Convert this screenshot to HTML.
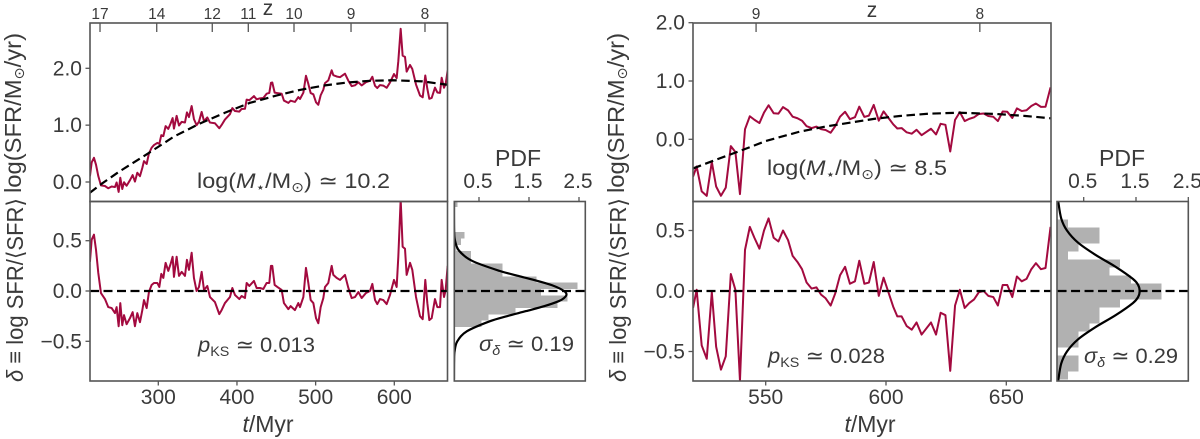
<!DOCTYPE html>
<html lang="en">
<head>
<meta charset="utf-8">
<title>Star formation history panels</title>
<style>
  html, body { margin: 0; padding: 0; background: #fff; }
  body { width: 1200px; height: 439px; overflow: hidden; }
  svg { display: block; filter: blur(0.3px); }
  text { font-family: "Liberation Sans", "DejaVu Sans", sans-serif; fill: #3a3a3a; }
  .tick { font-size: 21px; }
  .ztick { font-size: 15.5px; }
  .ann { font-size: 21.5px; }
  .lab { font-size: 23px; }
  .sub { font-size: 14px; }
</style>
</head>
<body>
<svg id="chart" xmlns="http://www.w3.org/2000/svg" width="1200" height="439" viewBox="0 0 1200 439">
  <defs>
    <clipPath id="clip-lt"><rect x="90" y="23" width="357.5" height="178.5"/></clipPath>
    <clipPath id="clip-lb"><rect x="90" y="201.5" width="357.5" height="179.5"/></clipPath>
    <clipPath id="clip-lp"><rect x="454.3" y="201.5" width="131" height="179.5"/></clipPath>
    <clipPath id="clip-rt"><rect x="693" y="23" width="358" height="178.5"/></clipPath>
    <clipPath id="clip-rb"><rect x="693" y="201.5" width="358" height="179.5"/></clipPath>
    <clipPath id="clip-rp"><rect x="1057" y="201.5" width="131.3" height="179.5"/></clipPath>
  </defs>
  <g id="marks"></g>
  <g id="frames"></g>
  <g id="ticks"></g>

  <text class="lab" transform="translate(21,113) rotate(-90)" text-anchor="middle" textLength="160" lengthAdjust="spacingAndGlyphs">log(SFR/M<tspan class="sub" dy="3">⊙</tspan><tspan dy="-3">/yr)</tspan></text>
  <text class="lab" transform="translate(23,290) rotate(-90)" text-anchor="middle" textLength="184" lengthAdjust="spacingAndGlyphs"><tspan font-style="italic">δ</tspan> ≡ log SFR/⟨SFR⟩</text>
  <text class="lab" x="268" y="432" text-anchor="middle"><tspan font-style="italic">t</tspan>/Myr</text>
  <text class="tick" x="268" y="15" text-anchor="middle">z</text>
  <text class="ann" x="197" y="188" textLength="193" lengthAdjust="spacingAndGlyphs">log(<tspan font-style="italic">M</tspan><tspan class="sub" dy="4">⋆</tspan><tspan dy="-4">/M</tspan><tspan class="sub" dy="4">⊙</tspan><tspan dy="-4">) ≃ 10.2</tspan></text>
  <text class="ann" x="198" y="352" textLength="117" lengthAdjust="spacingAndGlyphs"><tspan font-style="italic">p</tspan><tspan class="sub" dy="4">KS</tspan><tspan dy="-4"> ≃ 0.013</tspan></text>
  <text class="ann" x="479" y="351" textLength="95" lengthAdjust="spacingAndGlyphs"><tspan font-style="italic">σ</tspan><tspan class="sub" font-style="italic" dy="4">δ</tspan><tspan dy="-4"> ≃ 0.19</tspan></text>
  <text x="518" y="166" text-anchor="middle" font-size="23">PDF</text>

  <text class="lab" transform="translate(624,113) rotate(-90)" text-anchor="middle" textLength="160" lengthAdjust="spacingAndGlyphs">log(SFR/M<tspan class="sub" dy="3">⊙</tspan><tspan dy="-3">/yr)</tspan></text>
  <text class="lab" transform="translate(626,290) rotate(-90)" text-anchor="middle" textLength="184" lengthAdjust="spacingAndGlyphs"><tspan font-style="italic">δ</tspan> ≡ log SFR/⟨SFR⟩</text>
  <text class="lab" x="870" y="432" text-anchor="middle"><tspan font-style="italic">t</tspan>/Myr</text>
  <text class="tick" x="872" y="17" text-anchor="middle">z</text>
  <text class="ann" x="767" y="175" textLength="180" lengthAdjust="spacingAndGlyphs">log(<tspan font-style="italic">M</tspan><tspan class="sub" dy="4">⋆</tspan><tspan dy="-4">/M</tspan><tspan class="sub" dy="4">⊙</tspan><tspan dy="-4">) ≃ 8.5</tspan></text>
  <text class="ann" x="768" y="363" textLength="117" lengthAdjust="spacingAndGlyphs"><tspan font-style="italic">p</tspan><tspan class="sub" dy="4">KS</tspan><tspan dy="-4"> ≃ 0.028</tspan></text>
  <text class="ann" x="1084" y="363" textLength="94" lengthAdjust="spacingAndGlyphs"><tspan font-style="italic">σ</tspan><tspan class="sub" font-style="italic" dy="4">δ</tspan><tspan dy="-4"> ≃ 0.29</tspan></text>
  <text x="1122" y="166" text-anchor="middle" font-size="23">PDF</text>
</svg>

<script>
// ---------- Left galaxy data ----------
const leftTimes = [213.1,215.3,218.2,220.8,223.7,227.1,232.2,236.4,240.7,244.9,247,249.6,251.7,254.2,256.4,259.7,264,267.4,270.3,273.3,276.7,279.7,281.8,285.2,288.1,291.5,294.5,298.7,301.3,303.8,306.4,309.3,312.7,315.7,318.2,319.9,323.3,326.3,329.7,333.9,336.4,339,342.4,345.3,348.7,351.7,355.1,358.1,362.3,365.7,372,377.5,380.5,384.7,391.1,394.1,397.5,403,405.9,410.2,412.3,415.7,421.6,425,429.2,433.5,437.7,441.1,443.2,444.9,447.9,451.3,456.8,459.7,465.3,468.2,473.7,478,480.1,484.4,487.7,490.7,493.7,497.1,500.5,503.4,506.4,509.8,511.9,516.1,520.4,522.5,526.7,531,537.3,541.6,545.8,550,554.3,558.5,564,569.1,572.1,575.5,578.4,581.8,586,590.3,594.5,599.6,603,605.1,608.1,610.6,613.6,615.7,620,622.9,627.6,632.7,636.1,639.4,642,644.5,647.5,651.7,654.7,658.1,660.2,663.2,665.3,667.8];
const leftDelta = [0.29,0.51,0.56,0.41,0.18,-0.02,-0.08,-0.16,-0.17,-0.22,-0.16,-0.35,-0.12,-0.34,-0.24,-0.33,-0.27,-0.21,-0.35,-0.22,-0.31,-0.19,-0.09,-0.17,-0.01,0.06,0.08,0.08,0.04,0.17,0.13,0.28,0.2,0.27,0.34,0.14,0.34,0.15,0.19,0.15,0.31,0.21,0.38,0.13,0,0.04,0.19,0.01,0.05,-0.06,-0.11,-0.23,-0.19,-0.12,-0.06,0.03,-0.04,-0.08,-0.05,-0.07,0.08,0.05,0.1,0.03,0.03,0.02,0.08,0.08,0.25,0.25,0.06,0.04,0.01,-0.12,-0.18,-0.15,-0.19,-0.12,-0.16,-0.06,0.23,0.08,-0.09,-0.12,-0.27,-0.32,-0.16,-0.07,0.04,0.08,0.25,0.16,0.13,0.11,0.16,0.03,-0.07,-0.06,-0.01,-0.07,-0.02,0,0.07,-0.09,-0.13,-0.08,-0.09,-0.13,-0.04,0.11,0.04,0.34,0.91,0.44,0.42,0.16,0.28,0.21,-0.06,-0.25,-0.28,0.11,-0.12,-0.29,-0.27,-0.08,-0.16,-0.16,0.11,-0.06,0.01,0.25];
const leftFitTimes = [213,226,250,289,320,353,385,416,450,480,512,540,569,598,636,667.6];
const leftFitValues = [-0.19,-0.05,0.18,0.52,0.8,1.03,1.22,1.39,1.52,1.62,1.7,1.75,1.78,1.79,1.77,1.71];
const leftHistLow = -0.358;
const leftHistWidth = 0.0629;
const leftHistDensity = [0.55,0.69,1.23,2.07,2.27,1.74,2.47,1.65,0.97,0.97,0.34,0.34,0.05,0.14,0.21,0,0,0,0,0.07];
const leftCurveDelta = [0.88,0.6,0.5,0.4,0.3,0.2,0.15,0.1,0.05,0,-0.035,-0.07,-0.1,-0.15,-0.2,-0.25,-0.3,-0.4,-0.5,-0.6,-0.7,-0.88];
const leftCurvePdf = [0,0.003,0.021,0.102,0.36,0.91,1.29,1.67,2,2.2,2.25,2.2,2.1,1.81,1.44,1.06,0.72,0.26,0.066,0.012,0.002,0];

// ---------- Right galaxy data ----------
const rightTimes = [519.8,521.3,523.4,525.5,527.6,529.4,531.4,533.4,535.5,537.4,539.3,541.4,543.4,545.3,547.4,549.3,551.2,553.3,555.3,557.2,559.3,561.2,563.2,565.1,567,569.1,571.1,573,574.9,577,578.9,580.9,583,585,587.1,588.9,591,592.9,594.9,597,599,601,603,604.7,606.5,608.6,610.7,612.7,614.8,618.7,620.8,622.7,624.7,626.7,628.7,630.7,632.7,634.6,636.6,638.6,640.6,642.5,644.6,646.5,648.5,650.4,652.5,654.4,656.4,658.4,660.4,662.3,664.4,666.3,668.4];
const rightDelta = [-0.14,0.01,-0.45,-0.56,-0.01,-0.46,-0.65,-0.54,0.14,0.01,-0.74,0.34,0.53,0.44,0.35,0.5,0.6,0.44,0.41,0.5,0.42,0.29,0.24,0.18,0.07,0.02,0.03,-0.03,-0.06,-0.12,-0.02,0.13,0.2,0.06,0.08,0.25,0.06,0.07,0.24,-0.04,0.11,-0.01,-0.13,-0.21,-0.21,-0.29,-0.32,-0.26,-0.36,-0.26,-0.36,-0.18,-0.2,-0.66,-0.12,0.01,-0.14,-0.1,-0.07,-0.01,0,-0.04,-0.05,-0.12,0.05,0.05,-0.05,0.12,0.08,0.1,0.18,0.23,0.18,0.19,0.53];
const rightFitTimes = [519.8,530,539.3,550,564,575,585,595,605.7,618,630.7,646,658,668.6];
const rightFitValues = [-0.5,-0.34,-0.2,-0.03,0.13,0.22,0.285,0.35,0.4,0.44,0.456,0.434,0.4,0.36];
const rightHistLow = -0.73;
const rightHistWidth = 0.0661;
const rightHistDensity = [0.2,0.4,0.4,0,0.4,0.4,0.61,0.8,0.8,1.19,1.99,1.99,1.4,0.99,1.19,0.2,0.4,0.8,0.8,0.2];
const rightCurveDelta = [0.74,0.6,0.5,0.4,0.3,0.2,0.1,0.05,0,-0.05,-0.1,-0.2,-0.3,-0.4,-0.5,-0.6,-0.74];
const rightCurvePdf = [0.013,0.07,0.18,0.39,0.72,1.11,1.44,1.54,1.57,1.54,1.44,1.11,0.72,0.39,0.18,0.07,0.013];

// ---------- Tick labels ----------
const leftTimeTicks = [300,400,500,600];
const rightTimeTicks = [550,600,650];
const leftRedshiftLabels = ["17","14","12","11","10","9","8"];
const leftRedshiftTimes = [225.9,298,368.6,414.4,472.5,545,639];
const rightRedshiftLabels = ["9","8"];
const rightRedshiftTimes = [546,639];
const sfrTicks = [0,1,2];
const deltaTicks = [-0.5,0,0.5];
const pdfTicks = [0.5,1.5,2.5];

// ---------- Axis functions ----------
function linear(d0, r0, d1, r1) {
  return function (v) { return r0 + (v - d0) * (r1 - r0) / (d1 - d0); };
}
const leftX = linear(300, 158.3, 600, 394.3);
const rightX = linear(550, 765.7, 650, 1006.3);
const leftTopY = linear(0, 182, 2, 68.3);
const rightTopY = linear(0, 139.3, 2, 22.7);
const leftBottomY = linear(0, 291, 0.5, 240.7);
const rightBottomY = linear(0, 291, 0.5, 230.5);
const leftPdfX = linear(0.5, 479, 2.5, 579);
const rightPdfX = linear(0.5, 1083.7, 2.5, 1188.3);

const NS = "http://www.w3.org/2000/svg";
const marks = document.getElementById("marks");
const frames = document.getElementById("frames");
const ticksGroup = document.getElementById("ticks");
const CRIMSON = "#a30a3f";
const SPINE = "#555555";

function make(tag, parent, attrs) {
  const node = document.createElementNS(NS, tag);
  for (const k in attrs) node.setAttribute(k, attrs[k]);
  parent.appendChild(node);
  return node;
}
function interp(xs, ys, x) {
  if (x <= xs[0]) return ys[0];
  for (let i = 1; i < xs.length; i++) {
    if (x <= xs[i]) {
      return ys[i - 1] + (ys[i] - ys[i - 1]) * (x - xs[i - 1]) / (xs[i] - xs[i - 1]);
    }
  }
  return ys[ys.length - 1];
}
function polyPoints(xs, ys, fx, fy) {
  return xs.map(function (x, i) { return fx(x).toFixed(2) + "," + fy(ys[i]).toFixed(2); }).join(" ");
}
function smoothPath(points) {
  let d = "M" + points[0][0].toFixed(2) + " " + points[0][1].toFixed(2);
  for (let i = 0; i < points.length - 1; i++) {
    const p0 = points[Math.max(i - 1, 0)], p1 = points[i], p2 = points[i + 1], p3 = points[Math.min(i + 2, points.length - 1)];
    const c1x = p1[0] + (p2[0] - p0[0]) / 6, c1y = p1[1] + (p2[1] - p0[1]) / 6;
    const c2x = p2[0] - (p3[0] - p1[0]) / 6, c2y = p2[1] - (p3[1] - p1[1]) / 6;
    d += "C" + c1x.toFixed(2) + " " + c1y.toFixed(2) + " " + c2x.toFixed(2) + " " + c2y.toFixed(2) + " " + p2[0].toFixed(2) + " " + p2[1].toFixed(2);
  }
  return d;
}
function fmt(v) {
  const s = Math.abs(v).toFixed(1);
  return (v < 0 ? "\u2212" : "") + s;
}
function frame(x0, y0, x1, y1, name) {
  const r = make("rect", frames, { x: x0, y: y0, width: x1 - x0, height: y1 - y0, fill: "none", stroke: SPINE, "stroke-width": 1.6 });
  
  
}
function tickLine(x1, y1, x2, y2) {
  const l = make("line", ticksGroup, { x1: x1, y1: y1, x2: x2, y2: y2, stroke: SPINE, "stroke-width": 1.3 });
  
  
}
function tickText(x, y, label, anchor, cls) {
  const t = make("text", ticksGroup, { x: x, y: y, "text-anchor": anchor, class: cls });
  t.textContent = label;
  
  
}

function drawGalaxy(g) {
  // star formation rate = fit + delta, by the definition printed on the axis
  const sfr = g.times.map(function (t, i) { return interp(g.fitT, g.fitV, t) + g.delta[i]; });

  const sfrLine = make("polyline", marks, { points: polyPoints(g.times, sfr, g.x, g.topY), fill: "none", stroke: CRIMSON, "stroke-width": 2, "stroke-linejoin": "round", "clip-path": "url(#" + g.clipT + ")" });
  
  

  const fitLine = make("polyline", marks, { points: polyPoints(g.fitT, g.fitV, g.x, g.topY), fill: "none", stroke: "#000", "stroke-width": 2.2, "stroke-dasharray": "8.5 4.5", "clip-path": "url(#" + g.clipT + ")" });
  
  

  const deltaLine = make("polyline", marks, { points: polyPoints(g.times, g.delta, g.x, g.botY), fill: "none", stroke: CRIMSON, "stroke-width": 2, "stroke-linejoin": "round", "clip-path": "url(#" + g.clipB + ")" });
  
  

  const zero = make("line", marks, { x1: g.x0, x2: g.x1, y1: g.botY(0), y2: g.botY(0), stroke: "#000", "stroke-width": 2.2, "stroke-dasharray": "9 4.5" });
  
  

  g.hist.forEach(function (density, i) {
    if (density <= 0) return;
    const lo = g.histLow + i * g.histWidth;
    const yTop = g.botY(lo + g.histWidth), yBot = g.botY(lo);
    const bar = make("rect", marks, { x: g.pdfX(0), y: yTop, width: g.pdfX(density) - g.pdfX(0), height: yBot - yTop, fill: "#b1b1b1", "shape-rendering": "crispEdges", "clip-path": "url(#" + g.clipP + ")" });
    
    
  });

  const pts = g.curveD.map(function (d, i) { return [g.pdfX(g.curveP[i]), g.botY(d)]; });
  const curve = make("path", marks, { d: smoothPath(pts), fill: "none", stroke: "#000", "stroke-width": 2.2, "clip-path": "url(#" + g.clipP + ")" });
  
  

  const pdfZero = make("line", marks, { x1: g.pdfX(0), x2: g.pdf1, y1: g.botY(0), y2: g.botY(0), stroke: "#000", "stroke-width": 2.2, "stroke-dasharray": "9 4.5" });
  
  

  frame(g.x0, 23, g.x1, 201.5, g.name + '-sfr-panel-frame');
  frame(g.x0, 201.5, g.x1, 381, g.name + '-delta-panel-frame');
  frame(g.pdf0, 201.5, g.pdf1, 381, g.name + '-pdf-panel-frame');

  g.timeTicks.forEach(function (t) {
    tickLine(g.x(t), 381, g.x(t), 385.5);
    tickText(g.x(t), 404, String(t), "middle", "tick");
  });
  g.zTimes.forEach(function (t, i) {
    tickLine(g.x(t), 23, g.x(t), 32);
    tickText(g.x(t), 19, g.zLabels[i], "middle", "ztick");
  });
  sfrTicks.forEach(function (v) {
    tickLine(g.x0 - 4.5, g.topY(v), g.x0, g.topY(v));
    tickText(g.x0 - 8, g.topY(v) + 7, fmt(v), "end", "tick");
  });
  deltaTicks.forEach(function (v) {
    tickLine(g.x0 - 4.5, g.botY(v), g.x0, g.botY(v));
    tickText(g.x0 - 8, g.botY(v) + 7, fmt(v), "end", "tick");
  });
  pdfTicks.forEach(function (v) {
    tickLine(g.pdfX(v), 197, g.pdfX(v), 201.5);
    tickText(g.pdfX(v) - 1, 188, v.toFixed(1), "middle", "tick");
  });
}

drawGalaxy({
  name: "left", times: leftTimes, delta: leftDelta, fitT: leftFitTimes, fitV: leftFitValues,
  x: leftX, topY: leftTopY, botY: leftBottomY, pdfX: leftPdfX,
  x0: 90, x1: 447.5, pdf0: 454.3, pdf1: 585.3,
  hist: leftHistDensity, histLow: leftHistLow, histWidth: leftHistWidth,
  curveD: leftCurveDelta, curveP: leftCurvePdf,
  timeTicks: leftTimeTicks, zTimes: leftRedshiftTimes, zLabels: leftRedshiftLabels,
  clipT: "clip-lt", clipB: "clip-lb", clipP: "clip-lp"
});
drawGalaxy({
  name: "right", times: rightTimes, delta: rightDelta, fitT: rightFitTimes, fitV: rightFitValues,
  x: rightX, topY: rightTopY, botY: rightBottomY, pdfX: rightPdfX,
  x0: 693, x1: 1051, pdf0: 1057, pdf1: 1188.3,
  hist: rightHistDensity, histLow: rightHistLow, histWidth: rightHistWidth,
  curveD: rightCurveDelta, curveP: rightCurvePdf,
  timeTicks: rightTimeTicks, zTimes: rightRedshiftTimes, zLabels: rightRedshiftLabels,
  clipT: "clip-rt", clipB: "clip-rb", clipP: "clip-rp"
});
</script>
</body>
</html>
